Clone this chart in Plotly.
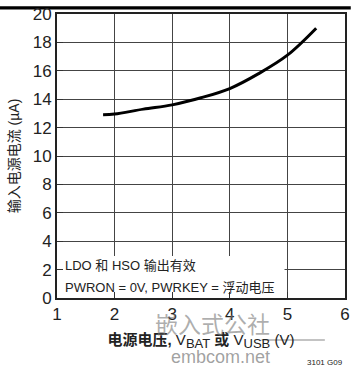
import plotly.graph_objects as go

supply_v = [1.8, 2.0, 2.5, 3.0, 3.5, 4.0, 4.5, 5.0, 5.5]
current_ua = [12.9, 12.95, 13.3, 13.6, 14.1, 14.75, 15.8, 17.1, 19.0]
x_ticks = [1, 2, 3, 4, 5, 6]
y_ticks = [0, 2, 4, 6, 8, 10, 12, 14, 16, 18, 20]

FONT = "Liberation Sans, Noto Sans CJK SC"
T, B = 7, 69
H = 367 - T - B
fig = go.Figure()
fig.add_trace(go.Scatter(x=supply_v, y=current_ua, mode="lines",
                         line=dict(color="black", width=3, shape="spline"),
                         showlegend=False))

fig.update_layout(
    width=355, height=367,
    margin=dict(l=57, r=5, t=T, b=B),
    paper_bgcolor="white", plot_bgcolor="white",
    font=dict(family=FONT, color="#222"),
    xaxis=dict(range=[1, 6], tickvals=x_ticks, showgrid=True, gridcolor="#444", gridwidth=1,
               showline=True, linecolor="#222", linewidth=2, mirror=True,
               ticks="inside", ticklen=6, tickcolor="#333", ticklabeloverflow="allow",
               tickfont=dict(size=17, family=FONT, color="#222"), zeroline=False,
               title=dict(text="<b>电源电压, </b>V<sub><span style='font-size:13px'>BAT</span></sub><b> 或 </b>V<sub><span style='font-size:13px'>USB</span></sub> (V)",
                          font=dict(size=15, family=FONT, color="#222"), standoff=11)),
    yaxis=dict(range=[0, 20], tickvals=y_ticks, showgrid=True, gridcolor="#444", gridwidth=1,
               showline=True, linecolor="#222", linewidth=2, mirror=True,
               ticks="inside", ticklen=6, tickcolor="#333", ticklabeloverflow="allow",
               tickfont=dict(size=17, family=FONT, color="#222"), zeroline=False,
               title=dict(text="输入电源电流 (µA)", font=dict(size=14, family=FONT, color="#222"),
                          standoff=10)),
)

fig.add_shape(type="rect", xref="x", yref="y", x0=1, x1=4.95, y0=0, y1=2.95,
              fillcolor="white", line=dict(width=0), layer="between")
fig.add_shape(type="rect", xref="paper", yref="paper", x0=-0.2, x1=1.02, y0=1 + (T - 2.5) / H,
              y1=1 + (T + 1) / H, fillcolor="black", line=dict(width=0), layer="below")
fig.add_shape(type="line", xref="paper", yref="paper", x0=0.71, x1=0.93, y0=-0.148, y1=-0.148,
              line=dict(color="rgba(120,120,120,0.6)", width=1.5))

fig.add_annotation(xref="x", yref="y", x=1.1, y=2.3, text="LDO 和 HSO 输出有效",
                   showarrow=False, xanchor="left", font=dict(size=13, family=FONT, color="#222"))
fig.add_annotation(xref="x", yref="y", x=1.1, y=0.75, text="PWRON = 0V, PWRKEY = 浮动电压",
                   showarrow=False, xanchor="left", font=dict(size=13, family=FONT, color="#222"))

fig.add_annotation(xref="paper", yref="paper", x=0.745, y=-0.155, text="嵌入式公社",
                   showarrow=False, font=dict(size=23, family="Noto Sans CJK SC", color="rgba(120,120,120,0.6)"))
fig.add_annotation(xref="paper", yref="paper", x=0.745, y=-0.25, text="embcom.net",
                   showarrow=False, font=dict(size=18, family="Liberation Sans", color="rgba(120,120,120,0.7)"))
fig.add_annotation(xref="paper", yref="paper", x=1.0, y=-0.25, text="3101 G09",
                   showarrow=False, xanchor="right", font=dict(size=8, family=FONT, color="#222"))

fig.write_html("out.html")
